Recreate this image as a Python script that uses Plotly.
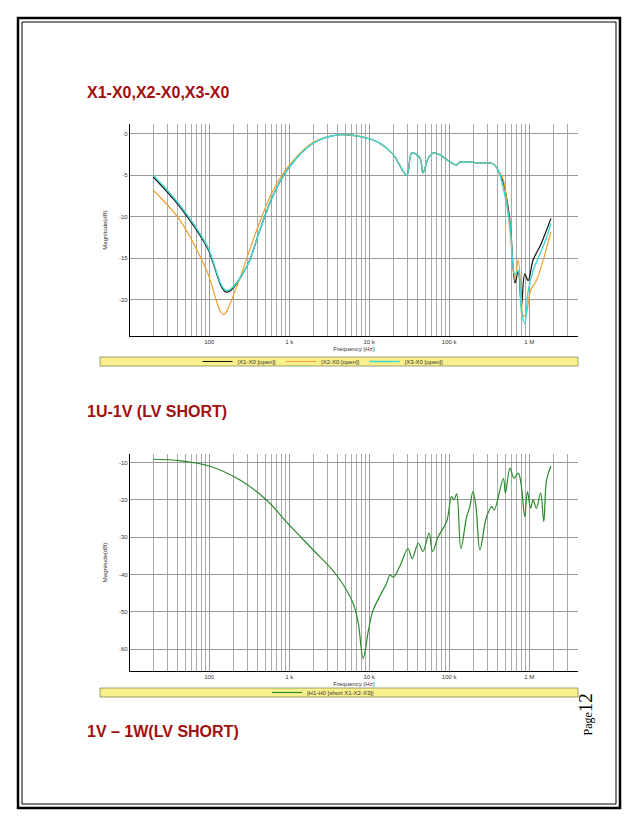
import plotly.graph_objects as go

# Chart 1 data
f1 = [20, 43, 93, 165, 295, 430, 630, 1000, 2000, 4300, 8500, 13500, 20000, 29500, 34000, 43000, 47000,
      55000, 63000, 76000, 93000, 124000, 136000, 242000, 355000, 410000, 473000, 573000, 665000, 730000,
      800000, 880000, 970000, 1120000, 1360000, 1650000, 1870000]
x1 = [-5.2, -8.8, -13.6, -19.1, -16.0, -11.6, -7.4, -4.0, -1.1, -0.1, -0.4, -1.1, -2.5, -5.0, -2.3, -2.9, -4.7,
      -2.9, -2.3, -2.5, -3.1, -3.75, -3.4, -3.5, -3.6, -4.4, -5.8, -10.4, -18.0, -16.5,
      -20.9, -16.9, -17.7, -15.2, -13.6, -11.6, -10.2]
f2 = [20, 43, 93, 150, 210, 295, 430, 630, 1000, 2000, 4300, 8500, 13500, 20000, 29500, 34000, 43000, 47000,
      55000, 63000, 76000, 93000, 124000, 136000, 242000, 355000, 410000, 473000, 573000, 665000, 730000,
      800000, 840000, 900000, 1040000, 1230000, 1500000, 1870000]
x2 = [-6.8, -10.4, -16.5, -21.8, -19.0, -15.0, -10.6, -6.8, -3.8, -1.0, -0.1, -0.4, -1.1, -2.5, -5.0, -2.3, -2.9, -4.7,
      -2.9, -2.3, -2.5, -3.1, -3.75, -3.4, -3.5, -3.6, -4.4, -5.5, -11.6, -17.5, -15.2,
      -20.0, -21.9, -22.0, -18.9, -17.7, -15.2, -11.8]
f3 = f1
x3 = [-5.0, -8.6, -13.4, -18.9, -16.0, -11.6, -7.4, -4.0, -1.1, -0.1, -0.4, -1.1, -2.5, -5.0, -2.3, -2.9, -4.7,
      -2.9, -2.3, -2.5, -3.1, -3.75, -3.4, -3.5, -3.6, -4.4, -6.5, -10.8, -17.0, -16.5,
      -21.5, -22.9, -19.0, -16.5, -14.5, -12.5, -10.8]

# Chart 2 data
g = [20, 43, 100, 240, 520, 1000, 2000, 3900, 6300, 7300, 8400, 9800, 11200, 16500, 18200, 20000, 24000, 30500,
     34500, 41000, 47000, 56000, 62000, 73000, 93000, 107000, 115000, 124000, 140000, 165000, 180000, 198000,
     216000, 242000, 290000, 340000, 365000, 475000, 505000, 575000, 645000, 730000, 800000, 880000, 950000,
     1040000, 1120000, 1230000, 1390000, 1520000, 1650000, 1870000]
r = [-9.1, -9.5, -10.9, -14.6, -20.0, -26.7, -33.4, -40.1, -47.7, -53.0, -62.4, -54.8, -49.5, -42.3, -40.1, -40.7,
     -37.9, -33.0, -35.7, -31.6, -33.8, -28.9, -33.8, -29.8, -25.8, -19.1, -20.0, -18.4, -33.0, -24.5, -22.0, -17.8,
     -21.8, -33.4, -24.9, -21.8, -22.7, -14.2, -18.2, -11.5, -14.2, -12.8, -16.4, -24.5, -17.8, -22.2, -20.0, -22.2,
     -18.2, -25.8, -14.6, -11.0]

tickvals = [100, 1000, 10000, 100000, 1000000]
ticktext = ["100", "1 k", "10 k", "100 k", "1 M"]

OFF = 8  # page body margin
W, H = 638 - OFF, 826 - OFF
def px(x): return (x - OFF) / W
def py(y): return 1 - (y - OFF) / H

fig = go.Figure()
fig.add_trace(go.Scatter(x=f1, y=x1, name="|X1-X0 [open]|", mode="lines", line=dict(color="#111111", width=1.2, shape="spline"), legend="legend"))
fig.add_trace(go.Scatter(x=f2, y=x2, name="|X2-X0 [open]|", mode="lines", line=dict(color="#f0a030", width=1.2, shape="spline"), legend="legend"))
fig.add_trace(go.Scatter(x=f3, y=x3, name="|X3-X0 [open]|", mode="lines", line=dict(color="#40d8d0", width=1.4, shape="spline"), legend="legend"))
fig.add_trace(go.Scatter(x=g, y=r, name="|H1-H0 [short X1-X2-X3]|", mode="lines", line=dict(color="#2a8a2a", width=1.2, shape="spline"),
                         xaxis="x2", yaxis="y2", legend="legend2"))

axis_common = dict(type="log", range=[1.01, 6.61], tickvals=tickvals, ticktext=ticktext, showgrid=True,
                   gridcolor="#999999", gridwidth=0.6, showline=True, linecolor="black", linewidth=1.2,
                   tickfont=dict(size=6, color="#333", family="Liberation Sans"), ticks="",
                   minor=dict(dtick="D1", showgrid=True, gridcolor="#aaaaaa", gridwidth=0.5),
                   title=dict(text="Frequency (Hz)", font=dict(size=6, color="#333"), standoff=2), zeroline=False)
yax_common = dict(showgrid=True, gridcolor="#999999", gridwidth=0.6, showline=True, linecolor="black", linewidth=1.2,
                  tickfont=dict(size=6, color="#333", family="Liberation Sans"), ticks="", zeroline=False,
                  title=dict(text="Magnitude(dB)", font=dict(size=6, color="#333"), standoff=10))

fig.update_layout(
    width=W, height=H, margin=dict(l=0, r=0, t=0, b=0),
    paper_bgcolor="white", plot_bgcolor="white", font=dict(family="Liberation Sans"),
    xaxis=dict(domain=[px(130), px(578)], anchor="y", **axis_common),
    yaxis=dict(domain=[py(336), py(124)], anchor="x", range=[-24.4, 1.2],
               tickvals=[0, -5, -10, -15, -20], ticktext=["0", "-5", "-10", "-15", "-20"], **yax_common),
    xaxis2=dict(domain=[px(130), px(578)], anchor="y2", **axis_common),
    yaxis2=dict(domain=[py(671), py(454)], anchor="x2", range=[-65.8, -7.7],
                tickvals=[-10, -20, -30, -40, -50, -60], ticktext=["-10", "-20", "-30", "-40", "-50", "-60"], **yax_common),
    legend=dict(orientation="h", x=0.5, xanchor="center", y=py(361.5), yanchor="middle", bgcolor="rgba(0,0,0,0)",
                font=dict(size=6, color="#333"), itemwidth=30, tracegroupgap=0),
    legend2=dict(orientation="h", x=0.5, xanchor="center", y=py(692.5), yanchor="middle", bgcolor="rgba(0,0,0,0)",
                 font=dict(size=6, color="#333"), itemwidth=30),
    showlegend=True,
)

shapes = [
    dict(type="rect", xref="paper", yref="paper", x0=px(18), x1=px(620), y0=py(808), y1=py(18), line=dict(color="black", width=2.5)),
    dict(type="rect", xref="paper", yref="paper", x0=px(22), x1=px(616), y0=py(804), y1=py(22), line=dict(color="black", width=1)),
    dict(type="rect", xref="paper", yref="paper", x0=px(100), x1=px(578), y0=py(366), y1=py(357), fillcolor="#f8f08a", line=dict(color="#888855", width=0.8), layer="below"),
    dict(type="rect", xref="paper", yref="paper", x0=px(100), x1=px(578), y0=py(697), y1=py(688), fillcolor="#f8f08a", line=dict(color="#888855", width=0.8), layer="below"),
]
fig.update_layout(shapes=shapes)

titles = [("X1-X0,X2-X0,X3-X0", 92), ("1U-1V (LV SHORT)", 412), ("1V \u2013 1W(LV SHORT)", 731)]
ann = []
for t, y in titles:
    ann.append(dict(text="<b>" + t + "</b>", x=px(85), y=py(y), xref="paper", yref="paper", xanchor="left", yanchor="middle",
                    showarrow=False, font=dict(size=16, color="#a01010", family="Liberation Sans")))
ann.append(dict(text="<span style='font-size:12px'>Page</span>12", x=px(597), y=py(738), xref="paper", yref="paper",
                textangle=-90, showarrow=False, font=dict(size=19, color="black", family="Liberation Serif")))
fig.update_layout(annotations=ann)

fig.write_html("out.html")
